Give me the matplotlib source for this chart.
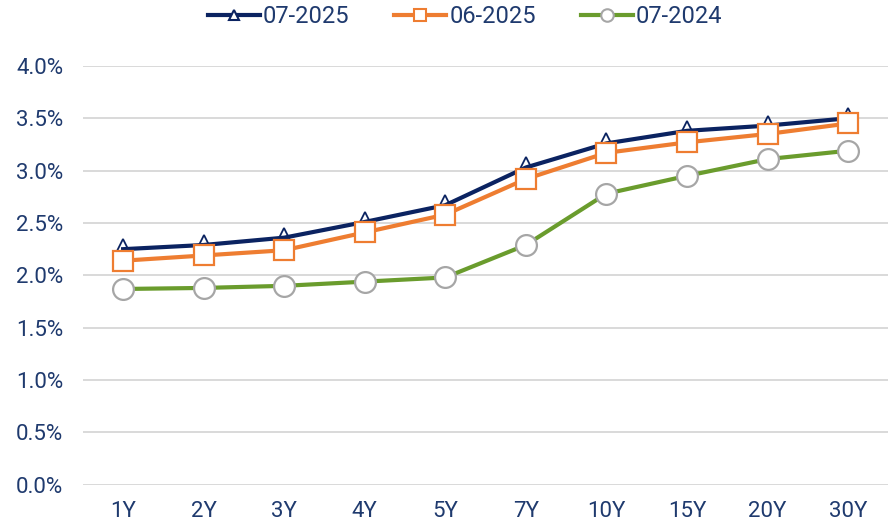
import matplotlib.pyplot as plt
from matplotlib.lines import Line2D
from matplotlib.ticker import FuncFormatter

# tenors and yield curves (%)
tenors = ["1Y", "2Y", "3Y", "4Y", "5Y", "7Y", "10Y", "15Y", "20Y", "30Y"]
jul_2025 = [2.25, 2.29, 2.36, 2.51, 2.67, 3.03, 3.26, 3.38, 3.43, 3.50]
jun_2025 = [2.14, 2.19, 2.24, 2.41, 2.58, 2.92, 3.17, 3.27, 3.35, 3.45]
jul_2024 = [1.87, 1.88, 1.90, 1.94, 1.98, 2.29, 2.78, 2.95, 3.11, 3.19]
labels = ["07-2025", "06-2025", "07-2024"]

navy = "#0B2361"
orange = "#EE7D31"
green = "#6A9C2D"
text_col = "#1F3A6E"

plt.rcParams['font.family'] = ['Roboto', 'DejaVu Sans']

fig = plt.figure(figsize=(8.91, 5.23), dpi=100)
ax = fig.add_axes([0.093, 0.073, 0.904, 0.801])

x = list(range(len(tenors)))
ax.plot(x, jul_2024, color=green, lw=3, marker="o", ms=15, mfc="white",
        mec="#A6A6A6", mew=1.6, clip_on=False, zorder=2)
# navy triangles sit under their line and under the orange squares
ax.plot(x, jul_2025, ls="none", marker="^", ms=15, mfc="white",
        mec=navy, mew=1.3, clip_on=False, zorder=3)
ax.plot(x, jul_2025, color=navy, lw=3, clip_on=False, zorder=3.5)
ax.plot(x, jun_2025, color=orange, lw=3, marker="s", ms=15, mfc="white",
        mec=orange, mew=1.6, clip_on=False, zorder=4)

ax.set_xlim(-0.5, len(tenors) - 0.5)
ax.set_ylim(0, 4.0)
ax.set_yticks([i * 0.5 for i in range(9)])
ax.yaxis.set_major_formatter(FuncFormatter(lambda v, p: f"{v:.1f}%"))
ax.set_xticks(x)
ax.set_xticklabels(tenors)
ax.tick_params(length=0, labelsize=16, labelcolor=text_col)
ax.tick_params(axis="x", pad=12)
ax.tick_params(axis="y", pad=14)
ax.grid(axis="y", color="#D9D9D9", lw=1.4)
ax.set_axisbelow(True)
for s in ax.spines.values():
    s.set_visible(False)

handles = [
    Line2D([], [], color=navy, lw=3, marker="^", ms=7, mfc="white", mec=navy, mew=1.5),
    Line2D([], [], color=orange, lw=3, marker="s", ms=9, mfc="white", mec=orange, mew=1.5),
    Line2D([], [], color=green, lw=3, marker="o", ms=9, mfc="white", mec="#A6A6A6", mew=1.5),
]
leg = fig.legend(handles, labels, loc="center", bbox_to_anchor=(0.522, 0.968), ncol=3,
                 frameon=False, fontsize=17, handlelength=2.2, columnspacing=1.9,
                 handletextpad=0.13)
for t in leg.get_texts():
    t.set_color(text_col)

fig.savefig("out.png", dpi=100)
